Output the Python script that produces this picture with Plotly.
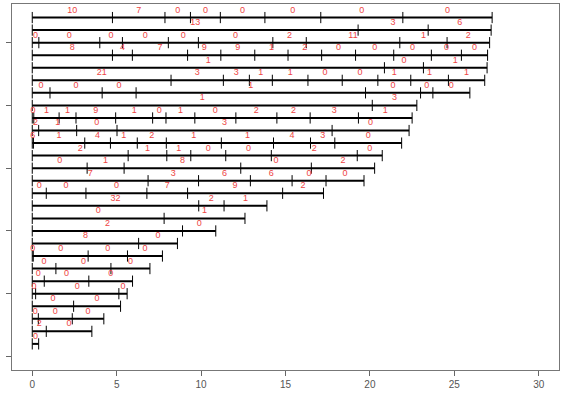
import plotly.graph_objects as go

# Segment boundaries for each row (top row first), in x-axis units
row_breaks = [
    [0, 4.75, 7.86, 9.37, 11.14, 13.78, 17.09, 21.95, 27.24],
    [0, 19.3, 23.45, 27.18],
    [0, 0.39, 4.0, 5.34, 8.06, 9.84, 14.25, 16.23, 21.77, 24.57, 27.09],
    [0, 4.75, 5.93, 9.2, 11.17, 13.18, 15.15, 17.14, 19.15, 21.41, 23.64, 25.42, 26.97],
    [0, 20.86, 23.17, 26.94],
    [0, 8.22, 11.32, 12.86, 14.22, 16.33, 18.36, 20.47, 22.42, 24.65, 26.8],
    [0, 1.05, 4.14, 6.15, 19.74, 23.0, 23.73, 25.92],
    [0, 20.14, 22.78],
    [0, 0.09, 1.59, 2.59, 4.94, 7.13, 7.92, 9.63, 12.06, 14.49, 16.46, 19.32, 22.5],
    [0, 0.38, 2.63, 5.02, 17.76, 22.32],
    [0, 0.07, 3.11, 4.63, 6.22, 7.94, 11.2, 14.29, 16.48, 17.92, 21.88],
    [0, 5.68, 7.97, 9.39, 11.46, 14.16, 19.25, 20.73],
    [0, 3.25, 5.44, 12.35, 16.53, 20.28],
    [0, 6.86, 9.85, 12.92, 15.39, 17.4, 19.65],
    [0, 0.83, 3.18, 6.79, 9.2, 14.83, 17.25],
    [0, 9.86, 11.36, 13.9],
    [0, 7.81, 12.6],
    [0, 8.9, 10.87],
    [0, 6.3, 8.6],
    [0, 0.06, 3.31, 5.64, 7.71],
    [0, 1.4, 4.66, 6.97],
    [0, 0.71, 3.35, 5.94],
    [0, 0.2, 5.13, 5.62],
    [0, 2.45, 5.23],
    [0, 0.36, 2.37, 4.24],
    [0, 0.83, 3.53],
    [0, 0.38],
]

# Count shown above each segment
row_counts = [
    [10, 7, 0, 0, 0, 0, 0, 0],
    [13, 3, 6],
    [0, 0, 0, 0, 0, 0, 2, 11, 1, 2],
    [8, 4, 7, 9, 9, 1, 2, 0, 0, 0, 0, 0],
    [1, 0, 1],
    [21, 3, 3, 1, 1, 0, 0, 1, 1, 1],
    [0, 0, 0, 1, 0, 0, 0],
    [1, 3],
    [0, 1, 1, 9, 1, 0, 1, 0, 2, 2, 3, 1],
    [2, 1, 0, 3, 0],
    [6, 1, 4, 1, 2, 1, 1, 4, 3, 0],
    [2, 1, 1, 0, 0, 2, 0],
    [0, 1, 8, 0, 2],
    [7, 3, 6, 6, 0, 0],
    [0, 0, 0, 7, 9, 2],
    [32, 2, 1],
    [0, 1],
    [2, 0],
    [8, 0],
    [0, 0, 0, 0],
    [0, 0, 0],
    [0, 0, 0],
    [0, 0, 0],
    [0, 0],
    [0, 0, 0],
    [2, 0],
    [0],
]

x_ticks = [0, 5, 10, 15, 20, 25, 30]
y_ticks = [0, 5, 10, 15, 20, 25]

n = len(row_breaks)
line_x, line_y = [], []
tick_x, tick_y = [], []
lab_x, lab_y, lab_t = [], [], []
for i, (br, ct) in enumerate(zip(row_breaks, row_counts)):
    yv = n - i
    line_x += [br[0], br[-1], None]
    line_y += [yv, yv, None]
    tick_x += br
    tick_y += [yv] * len(br)
    for j, c in enumerate(ct):
        lab_x.append((br[j] + br[j + 1]) / 2)
        lab_y.append(yv + 0.58)
        lab_t.append(str(c))

fig = go.Figure()
fig.add_trace(go.Scatter(x=line_x, y=line_y, mode="lines",
                         line=dict(color="black", width=2), hoverinfo="skip"))
fig.add_trace(go.Scatter(x=tick_x, y=tick_y, mode="markers",
                         marker=dict(symbol="line-ns", size=8,
                                     line=dict(color="black", width=1)),
                         hoverinfo="skip"))
fig.add_trace(go.Scatter(x=lab_x, y=lab_y, mode="text", text=lab_t,
                         textposition="middle center",
                         textfont=dict(family="Liberation Sans, Arial", size=9,
                                       color="#ee4444"),
                         hoverinfo="skip"))

fig.update_layout(
    width=564, height=398,
    margin=dict(l=12, r=5, t=4, b=28),
    paper_bgcolor="white", plot_bgcolor="white",
    showlegend=False,
    font=dict(family="Liberation Sans, Arial", size=10, color="#555555"),
)
fig.update_xaxes(range=[-1.2, 31.2], tickvals=x_ticks, ticks="outside",
                 ticklen=5, tickcolor="#666666", showgrid=False, zeroline=False,
                 showline=True, linecolor="#777777", linewidth=1, mirror=True,
                 tickfont=dict(size=10, color="#555555"))
fig.update_yaxes(range=[-1.08, 28.08], tickvals=y_ticks, ticks="outside",
                 ticklen=5, tickcolor="#666666", showticklabels=False,
                 showgrid=False, zeroline=False,
                 showline=True, linecolor="#777777", linewidth=1, mirror=True)

fig.write_html("out.html")
